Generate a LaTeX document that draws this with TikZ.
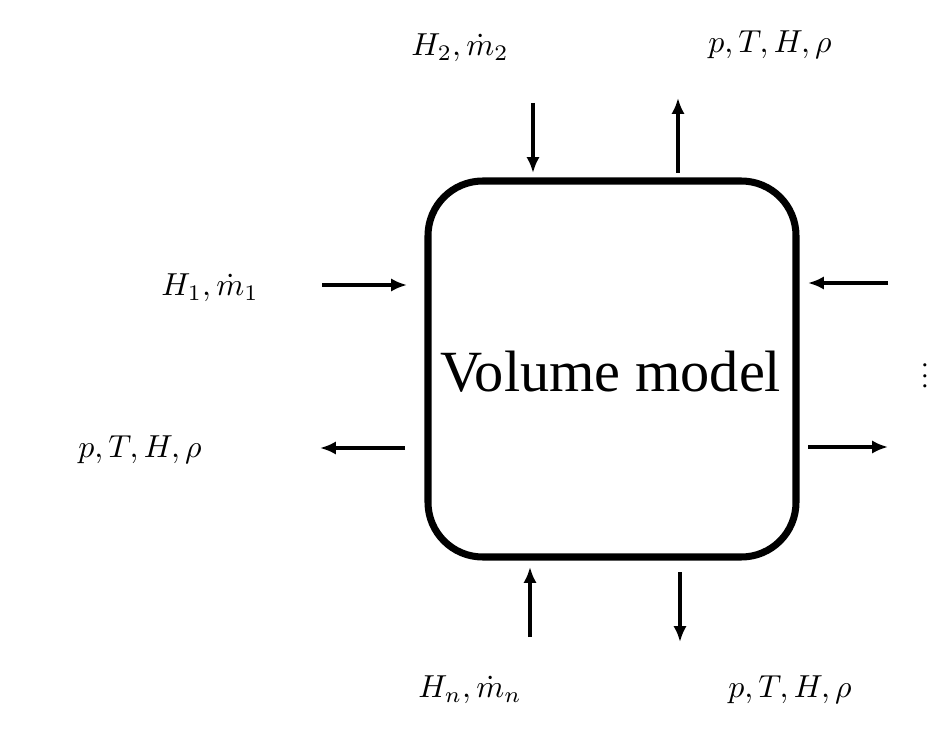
\documentclass[tikz,border=0pt]{standalone}
\usepackage{fontspec}
\setmainfont{Liberation Serif}
\usetikzlibrary{arrows.meta}
\begin{document}
\begin{tikzpicture}[x=0.0265cm,y=-0.0265cm,
  arr/.style={line width=2.3pt,-{Latex[length=12pt,width=10pt]}},
  lbl/.style={inner sep=0pt,scale=2.4,transform shape},
  vbox/.style={draw,line width=5.3pt,rounded corners=1.45cm}]
\useasboundingbox (0,0) rectangle (945,739);
\draw[vbox] (428,181) rectangle (796,557);
\node[inner sep=0pt,anchor=west] (txt) at (440,372) {\fontsize{44}{48}\selectfont Volume model};
\node[lbl] (l2) at (460,48) {$H_2,\dot m_2$};
\node[lbl] (o1) at (770,45) {$p,T,H,\rho$};
\node[lbl] (l1) at (210,288) {$H_1,\dot m_1$};
\node[lbl] (o2) at (140,450) {$p,T,H,\rho$};
\node[lbl] (ln) at (470,690) {$H_n,\dot m_n$};
\node[lbl] (o3) at (790,690) {$p,T,H,\rho$};
\node[inner sep=0pt,scale=2,transform shape] (dots) at (925,368) {$\vdots$};
\coordinate (a1) at (533,103); \coordinate (b1) at (533,173);
\coordinate (a2) at (678,173); \coordinate (b2) at (678,98);
\coordinate (a3) at (322,285); \coordinate (b3) at (407,285);
\coordinate (a4) at (405,448); \coordinate (b4) at (320,448);
\coordinate (a5) at (888,283); \coordinate (b5) at (808,283);
\coordinate (a6) at (808,447); \coordinate (b6) at (888,447);
\coordinate (a7) at (530,637); \coordinate (b7) at (530,567);
\coordinate (a8) at (680,572); \coordinate (b8) at (680,642);
\foreach \i in {1,...,8} \draw[arr] (a\i) -- (b\i);
\end{tikzpicture}
\end{document}
